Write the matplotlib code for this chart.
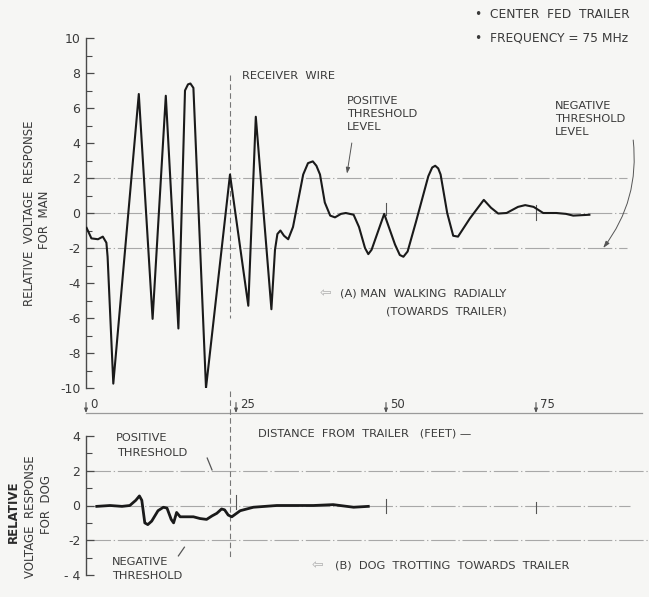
import matplotlib
matplotlib.use("Agg")
import matplotlib.pyplot as plt
from matplotlib.ticker import MultipleLocator, FixedLocator, FixedFormatter

# ---------------- data ----------------
man_dist = [0.1, 0.9, 2.0, 2.8, 3.4, 3.6, 4.55, 8.8, 11.1, 13.3, 15.4, 16.5, 17.0, 17.4,
            17.9, 20.0, 24.0, 27.05, 28.3, 30.9, 31.5, 31.9, 32.4, 33.0, 33.7, 34.5,
            36.2, 37.0, 37.8, 38.4, 39.0, 39.8, 40.7, 41.5, 42.5, 43.3, 44.6, 45.5,
            46.5, 47.05, 47.6, 49.7, 51.5, 52.3, 52.9, 53.6, 55.0, 57.05, 57.7, 58.2,
            58.7, 59.1, 60.2, 61.2, 62.0, 64.0, 66.3, 67.5, 68.7, 70.1, 72.0, 73.2,
            74.6, 76.2, 78.4, 80.0, 81.2, 83.9]
man_volt = [-0.85, -1.45, -1.5, -1.35, -1.7, -2.5, -9.75, 6.8, -6.05, 6.7, -6.6, 7.0, 7.35, 7.4,
            7.15, -10.0, 2.2, -5.3, 5.5, -5.5, -2.1, -1.2, -1.0, -1.3, -1.5, -0.8,
            2.2, 2.85, 2.95, 2.7, 2.2, 0.6, -0.15, -0.25, -0.05, 0.0, -0.1, -0.8,
            -2.0, -2.35, -2.1, -0.05, -1.8, -2.4, -2.5, -2.2, -0.5, 2.1, 2.6, 2.7,
            2.55, 2.2, 0.0, -1.3, -1.35, -0.3, 0.75, 0.3, -0.03, 0.0, 0.35, 0.45,
            0.35, 0.0, 0.0, -0.05, -0.15, -0.1]

dog_dist = [1.8, 4.0, 6.0, 7.3, 8.3, 8.9, 9.3, 9.8, 10.3, 10.95, 12.0, 12.9, 13.5, 14.2,
            14.6, 15.1, 15.7, 17.9, 19.0, 20.1, 21.0, 21.8, 22.6, 23.1, 23.7, 24.3,
            25.7, 27.9, 31.8, 35.0, 37.9, 41.2, 44.6, 47.05]
dog_volt = [-0.05, 0.0, -0.05, 0.0, 0.3, 0.55, 0.3, -1.0, -1.1, -0.9, -0.3, -0.1, -0.15, -0.8,
            -1.0, -0.4, -0.65, -0.65, -0.75, -0.8, -0.6, -0.45, -0.2, -0.25, -0.55, -0.65,
            -0.3, -0.1, 0.0, 0.0, 0.0, 0.05, -0.1, -0.05]

thresholds = [2, 0, -2]
receiver_wire_ft = 24.0
distance_ticks = [0, 25, 50, 75]
distance_labels = ["0", "25", "50", "75"]
man_yticks = [10, 8, 6, 4, 2, 0, -2, -4, -6, -8, -10]
man_ylabels = ["10", "8", "6", "4", "2", "0", "-2", "-4", "-6", "-8", "-10"]
dog_yticks = [4, 2, 0, -2, -4]
dog_ylabels = ["4", "2", "0", "-2", "- 4"]

# ---------------- style ----------------
BG = "#f6f6f4"
INK = "#1a1a1a"
TXT = "#3a3a3a"
GRID = "#a8a8a8"
FONT = "DejaVu Sans"
plt.rcParams["font.family"] = [FONT]

W, H = 649, 597
fig = plt.figure(figsize=(W / 100, H / 100), dpi=100, facecolor=BG)


def fx(px):
    return px / W


def fy(py):
    return 1 - py / H


XMAX = (W - 86) / 6.0

ax = fig.add_axes([fx(86), fy(388), fx(W) - fx(86), fy(38) - fy(388)], facecolor="none")
bx = fig.add_axes([fx(86), fy(575), fx(W) - fx(86), fy(436) - fy(575)], facecolor="none")

for a, yl, yt, ylab in [(ax, 10, man_yticks, man_ylabels), (bx, 4, dog_yticks, dog_ylabels)]:
    a.set_xlim(0, XMAX)
    a.set_ylim(-yl, yl)
    for s in ["top", "right", "bottom"]:
        a.spines[s].set_visible(False)
    a.spines["left"].set_color("#4a4a4a")
    a.spines["left"].set_linewidth(1.0)
    a.set_xticks([])
    a.yaxis.set_major_locator(FixedLocator(yt))
    a.yaxis.set_major_formatter(FixedFormatter(ylab))
    a.yaxis.set_minor_locator(MultipleLocator(1))
    a.tick_params(axis="y", which="major", direction="in", length=6, width=0.9,
                  color="#4a4a4a", labelsize=9, labelcolor=TXT, pad=4)
    a.tick_params(axis="y", which="minor", direction="in", length=4, width=0.8,
                  color="#4a4a4a")

dash = (0, (22, 2.5, 1.2, 2.5))
# top panel threshold lines
for t in thresholds:
    ax.plot([0, 90.2], [t, t], color=GRID, lw=0.8, linestyle=dash, zorder=1)
# bottom panel threshold lines
for t in thresholds:
    xe = 90.7 if t == 0 else XMAX
    bx.plot([0, xe], [t, t], color=GRID, lw=0.8, linestyle=dash, zorder=1, clip_on=False)

# curves
ax.plot(man_dist, man_volt, color=INK, lw=1.5, solid_joinstyle="round", zorder=3)
bx.plot(dog_dist, dog_volt, color=INK, lw=2.0, solid_joinstyle="round", zorder=3)

# receiver wire
ax.plot([receiver_wire_ft] * 2, [7.9, -6.0], color="#777777", lw=0.8,
        linestyle=(0, (5, 3)), zorder=2)
bx.plot([receiver_wire_ft] * 2, [6.6, -2.95], color="#777777", lw=0.8,
        linestyle=(0, (5, 3)), zorder=2, clip_on=False)

# distance markers on the curves
ax.plot([50, 50], [-0.1, 0.6], color="#555555", lw=0.8)
ax.plot([75, 75], [-0.4, 0.45], color="#555555", lw=0.8)
for d, lo, hi in [(25, -0.2, 0.6), (50, -0.45, 0.4), (75, -0.45, 0.2)]:
    bx.plot([d, d], [lo, hi], color="#555555", lw=0.8)

# distance axis (between the panels)
yax = -11.43
ax.plot([0, 92.7], [yax, yax], color="#9a9a9a", lw=0.9, clip_on=False)
for d, lab in zip(distance_ticks, distance_labels):
    ax.annotate("", xy=(d, yax), xytext=(d, yax + 0.6), annotation_clip=False,
                arrowprops=dict(arrowstyle="-|>,head_length=0.25,head_width=0.1",
                                color="#555555", lw=0.8, shrinkA=0, shrinkB=0))
    ax.text(d + 0.7, yax + 0.47, lab, fontsize=8.5, color=TXT, ha="left", va="center",
            clip_on=False)

fs = 8.2
# header notes
fig.text(fx(475), fy(14), "\u2022  CENTER  FED  TRAILER", fontsize=8.8, color=TXT,
         ha="left", va="center")
fig.text(fx(475), fy(38), "\u2022  FREQUENCY = 75 MHz", fontsize=8.8, color=TXT,
         ha="left", va="center")
fig.text(fx(242), fy(76), "RECEIVER  WIRE", fontsize=fs, color=TXT, ha="left", va="center")

fig.text(fx(347), fy(96), "POSITIVE\nTHRESHOLD\nLEVEL", fontsize=fs, color=TXT,
         ha="left", va="top", linespacing=1.35)
ax.annotate("", xy=(43.5, 2.25), xytext=(44.3, 4.0),
            arrowprops=dict(arrowstyle="-|>,head_length=0.35,head_width=0.12",
                            color="#555555", lw=0.7, shrinkA=0, shrinkB=0))

fig.text(fx(555), fy(101), "NEGATIVE\nTHRESHOLD\nLEVEL", fontsize=fs, color=TXT,
         ha="left", va="top", linespacing=1.35)
ax.annotate("", xy=(86.2, -2.0), xytext=(91.2, 4.17), annotation_clip=False,
            arrowprops=dict(arrowstyle="-|>,head_length=0.4,head_width=0.13",
                            color="#555555", lw=0.7, shrinkA=0, shrinkB=0,
                            connectionstyle="arc3,rad=-0.2"))

fig.text(fx(320), fy(293), "\u21e6", fontsize=10, color="#b0b0b0", ha="left", va="center")
fig.text(fx(340), fy(293), "(A) MAN  WALKING  RADIALLY", fontsize=fs, color=TXT,
         ha="left", va="center")
fig.text(fx(386), fy(311), "(TOWARDS  TRAILER)", fontsize=fs, color=TXT,
         ha="left", va="center")

fig.text(fx(30), fy(213), "RELATIVE  VOLTAGE  RESPONSE", fontsize=8.5, color=TXT,
         rotation=90, ha="center", va="center")
fig.text(fx(44), fy(220), "FOR  MAN", fontsize=8.5, color=TXT,
         rotation=90, ha="center", va="center")

fig.text(fx(258), fy(433), "DISTANCE  FROM  TRAILER   (FEET) \u2014", fontsize=fs,
         color=TXT, ha="left", va="center")

# bottom panel notes
fig.text(fx(116), fy(438), "POSITIVE", fontsize=fs, color=TXT, ha="left", va="center")
fig.text(fx(117), fy(453), "THRESHOLD", fontsize=fs, color=TXT, ha="left", va="center")
bx.plot([20.2, 21.0], [2.73, 2.05], color="#555555", lw=0.9)
fig.text(fx(112), fy(562), "NEGATIVE", fontsize=fs, color=TXT, ha="left", va="center")
fig.text(fx(112), fy(576), "THRESHOLD", fontsize=fs, color=TXT, ha="left", va="center")
bx.plot([15.4, 16.4], [-2.90, -2.4], color="#555555", lw=0.9, clip_on=False)

fig.text(fx(312), fy(565), "\u21e6", fontsize=10, color="#b0b0b0", ha="left", va="center")
fig.text(fx(335), fy(565), "(B)  DOG  TROTTING  TOWARDS  TRAILER", fontsize=fs,
         color=TXT, ha="left", va="center")

fig.text(fx(13), fy(512), "RELATIVE", fontsize=8.5, color="#2a2a2a", fontweight="bold",
         rotation=90, ha="center", va="center")
fig.text(fx(30), fy(517), "VOLTAGE  RESPONSE", fontsize=8.5, color=TXT,
         rotation=90, ha="center", va="center")
fig.text(fx(47), fy(505), "FOR  DOG", fontsize=8.5, color=TXT,
         rotation=90, ha="center", va="center")

fig.savefig("out.png", dpi=100, facecolor=BG)
